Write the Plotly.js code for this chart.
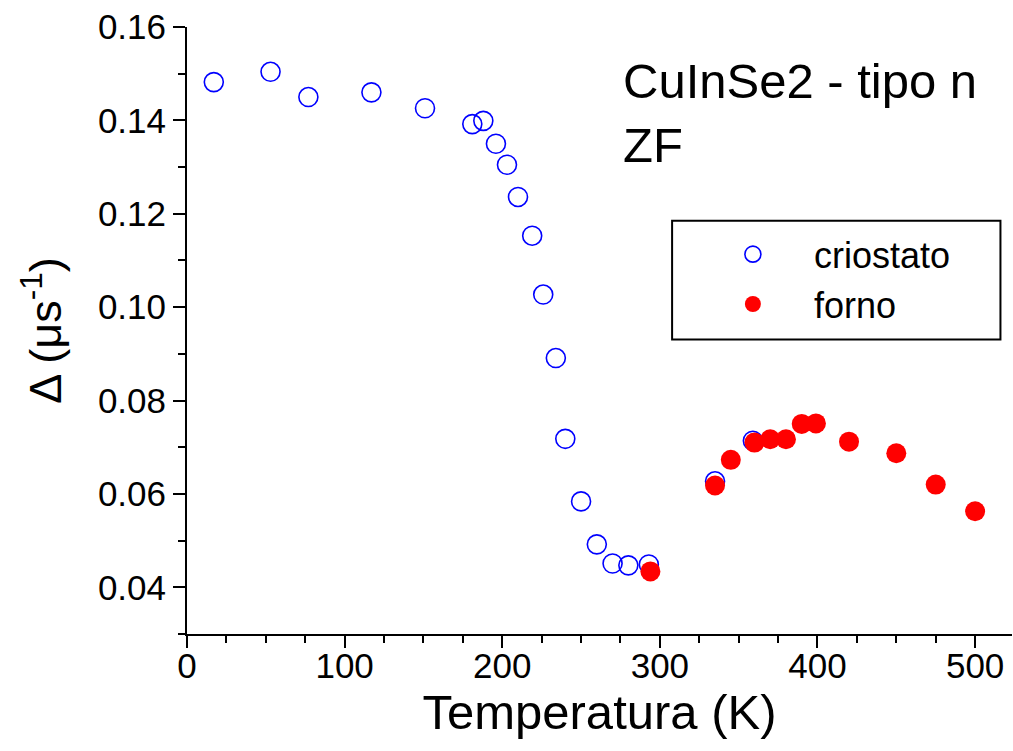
<!DOCTYPE html>
<html>
<head>
<meta charset="utf-8">
<script src="https://cdn.plot.ly/plotly-3.0.1.min.js"></script>
<style>
  html, body { margin: 0; padding: 0; background: #ffffff; overflow: hidden; }
  #chart { width: 1013px; height: 751px; }
</style>
</head>
<body>
<div id="chart"></div>
<script>
// Data
const criostatoT = [17, 53, 77, 117, 151, 181, 188, 196, 203, 210, 219, 226, 234, 240, 250, 260, 270, 280, 293, 335, 359];
const criostatoDelta = [0.1482, 0.1504, 0.1450, 0.1460, 0.1426, 0.1392, 0.1399, 0.1350, 0.1305, 0.1236, 0.1153, 0.1027, 0.0891, 0.0718, 0.0584, 0.0492, 0.0451, 0.0447, 0.0449, 0.0627, 0.0714];
const fornoT = [294, 335, 345, 360, 370, 380, 390, 399, 420, 450, 475, 500];
const fornoDelta = [0.0434, 0.0618, 0.0673, 0.0710, 0.0717, 0.0717, 0.0750, 0.0751, 0.0712, 0.0687, 0.0620, 0.0563];
const seriesNames = ['criostato', 'forno'];
const xTitle = 'Temperatura (K)';
const yTitle = 'Δ (μs<sup>-1</sup>)';
const noteText = 'CuInSe2 - tipo n<br>ZF';
const xRange = [0, 523.4];
const yRange = [0.03, 0.16];

const traces = [
  {
    x: criostatoT, y: criostatoDelta, name: seriesNames[0],
    type: 'scatter', mode: 'markers',
    marker: { symbol: 'circle-open', size: 19, color: '#0000ff', line: { width: 1.6, color: '#0000ff' } }
  },
  {
    x: fornoT, y: fornoDelta, name: seriesNames[1],
    type: 'scatter', mode: 'markers',
    marker: { symbol: 'circle', size: 20, color: '#ff0000', line: { width: 0 } }
  }
];

const axisCommon = {
  showline: true, linecolor: '#000', linewidth: 2,
  showgrid: false, zeroline: false,
  tickcolor: '#000', tickwidth: 2, ticklen: 12
};

const layout = {
  width: 1013, height: 751,
  margin: { l: 187, r: 1, t: 27, b: 117, pad: 0 },
  paper_bgcolor: '#ffffff', plot_bgcolor: '#ffffff',
  font: { family: 'Liberation Sans, Arial, sans-serif', color: '#000' },
  showlegend: true,
  legend: {
    x: 0.612, y: 0.675, xanchor: 'left', yanchor: 'top',
    bgcolor: 'rgba(0,0,0,0)', borderwidth: 0,
    itemwidth: 112,
    font: { size: 36, family: 'Liberation Sans, Arial, sans-serif', color: '#000' },
    tracegroupgap: 0
  },
  shapes: [
    { type: 'rect', xref: 'paper', yref: 'paper', x0: 0.588, x1: 0.986, y0: 0.485, y1: 0.681,
      line: { color: '#000', width: 2 }, fillcolor: 'rgba(0,0,0,0)', layer: 'below' }
  ],
  xaxis: Object.assign({}, axisCommon, {
    range: xRange, dtick: 100, tick0: 0,
    ticks: 'outside',
    minor: { dtick: 25, ticks: 'outside', ticklen: 7, tickwidth: 2, tickcolor: '#000' },
    tickfont: { size: 35, family: 'Liberation Sans, Arial, sans-serif' },
    ticklabelstandoff: -12,
    title: { text: xTitle, font: { size: 49, family: 'Liberation Sans, Arial, sans-serif' }, standoff: 8 }
  }),
  yaxis: Object.assign({}, axisCommon, {
    range: yRange, dtick: 0.02, tick0: 0.04,
    tickformat: '.2f',
    ticks: 'outside',
    minor: { dtick: 0.01, ticks: 'outside', ticklen: 7, tickwidth: 2, tickcolor: '#000' },
    tickfont: { size: 35, family: 'Liberation Sans, Arial, sans-serif' },
    title: { text: yTitle, font: { size: 45, family: 'Liberation Sans, Arial, sans-serif' }, standoff: 22 }
  }),
  xaxis2: Object.assign({}, axisCommon, {
    overlaying: 'x', anchor: 'y', side: 'top',
    range: xRange, dtick: 100, tick0: 0,
    ticks: 'inside', showticklabels: false,
    minor: { dtick: 25, ticks: 'inside', ticklen: 7, tickwidth: 2, tickcolor: '#000' }
  }),
  yaxis2: Object.assign({}, axisCommon, {
    overlaying: 'y', anchor: 'x', side: 'right',
    range: yRange, dtick: 0.02, tick0: 0.04,
    ticks: 'inside', showticklabels: false,
    minor: { dtick: 0.01, ticks: 'inside', ticklen: 7, tickwidth: 2, tickcolor: '#000' }
  }),
  annotations: [
    { text: noteText, xref: 'paper', yref: 'paper', x: 0.526, y: 0.958,
      xanchor: 'left', yanchor: 'top', align: 'left', showarrow: false,
      font: { size: 49, family: 'Liberation Sans, Arial, sans-serif', color: '#000' } }
  ]
};

Plotly.newPlot('chart', traces, layout, { displayModeBar: false, staticPlot: true });
</script>
</body>
</html>
